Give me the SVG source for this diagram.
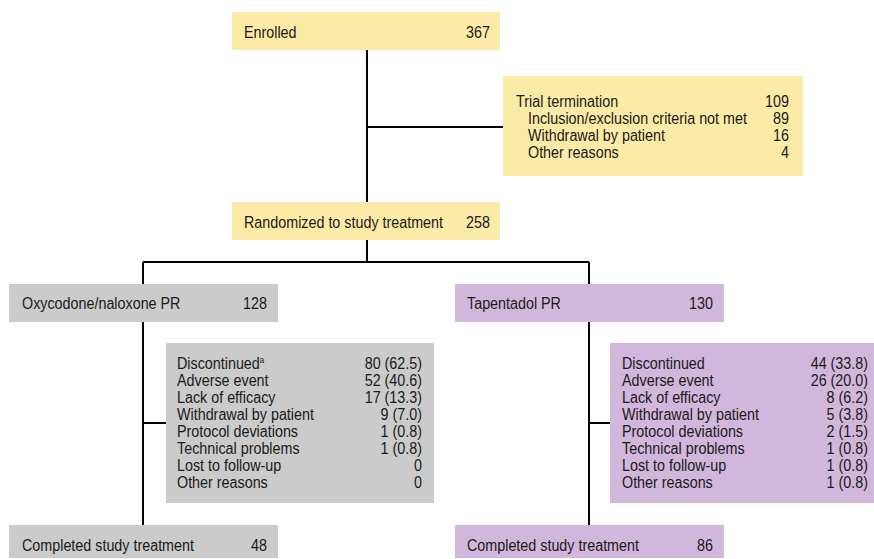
<svg xmlns="http://www.w3.org/2000/svg" width="874" height="559" viewBox="0 0 874 559">
<style>
text{font-family:"Liberation Sans",Arial,sans-serif;font-size:16.2px;fill:#1a1a1a}
.r{text-anchor:end}
.y{fill:#FCEBA6}
.g{fill:#CBCBCB}
.p{fill:#D2B7DC}
.c{stroke:#000;stroke-width:2;fill:none}
</style>
<rect width="874" height="559" fill="#fff"/>
<g id="connectors">
<path class="c" d="M367 50V202M367 127H503M367 240V262M143 262H589M143 262V525M589 262V525M143 423H166M589 423H610"/>
</g>
<g id="enrolled">
<rect class="y" x="232" y="12" width="268" height="38"/>
<text transform="matrix(0.885 0 0 1 244 38)">Enrolled</text>
<text class="r" transform="matrix(0.885 0 0 1 490 38)">367</text>
</g>
<g id="termination">
<rect class="y" x="503" y="76" width="300" height="100"/>
<text transform="matrix(0.885 0 0 1 516 107)">Trial termination</text>
<text class="r" transform="matrix(0.885 0 0 1 789 107)">109</text>
<text transform="matrix(0.885 0 0 1 528 124)">Inclusion/exclusion criteria not met</text>
<text class="r" transform="matrix(0.885 0 0 1 789 124)">89</text>
<text transform="matrix(0.885 0 0 1 528 141)">Withdrawal by patient</text>
<text class="r" transform="matrix(0.885 0 0 1 789 141)">16</text>
<text transform="matrix(0.885 0 0 1 528 158)">Other reasons</text>
<text class="r" transform="matrix(0.885 0 0 1 789 158)">4</text>
</g>
<g id="randomized">
<rect class="y" x="232" y="202" width="268" height="38"/>
<text transform="matrix(0.885 0 0 1 244 228)">Randomized to study treatment</text>
<text class="r" transform="matrix(0.885 0 0 1 490 228)">258</text>
</g>
<g id="oxy">
<rect class="g" x="9" y="284" width="269" height="38"/>
<text transform="matrix(0.885 0 0 1 22 309)">Oxycodone/naloxone PR</text>
<text class="r" transform="matrix(0.885 0 0 1 267 309)">128</text>
</g>
<g id="tap">
<rect class="p" x="455" y="284" width="269" height="38"/>
<text transform="matrix(0.885 0 0 1 467 309)">Tapentadol PR</text>
<text class="r" transform="matrix(0.885 0 0 1 713 309)">130</text>
</g>
<g id="oxy-disc">
<rect class="g" x="166" y="343" width="268" height="160"/>
<text transform="matrix(0.885 0 0 1 177 369)">Discontinued<tspan font-size="9" dy="-6">a</tspan></text>
<text transform="matrix(0.885 0 0 1 177 386)">Adverse event</text>
<text transform="matrix(0.885 0 0 1 177 403)">Lack of efficacy</text>
<text transform="matrix(0.885 0 0 1 177 420)">Withdrawal by patient</text>
<text transform="matrix(0.885 0 0 1 177 437)">Protocol deviations</text>
<text transform="matrix(0.885 0 0 1 177 454)">Technical problems</text>
<text transform="matrix(0.885 0 0 1 177 471)">Lost to follow-up</text>
<text transform="matrix(0.885 0 0 1 177 488)">Other reasons</text>
<text class="r" transform="matrix(0.885 0 0 1 422 369)">80 (62.5)</text>
<text class="r" transform="matrix(0.885 0 0 1 422 386)">52 (40.6)</text>
<text class="r" transform="matrix(0.885 0 0 1 422 403)">17 (13.3)</text>
<text class="r" transform="matrix(0.885 0 0 1 422 420)">9 (7.0)</text>
<text class="r" transform="matrix(0.885 0 0 1 422 437)">1 (0.8)</text>
<text class="r" transform="matrix(0.885 0 0 1 422 454)">1 (0.8)</text>
<text class="r" transform="matrix(0.885 0 0 1 422 471)">0</text>
<text class="r" transform="matrix(0.885 0 0 1 422 488)">0</text>
</g>
<g id="tap-disc">
<rect class="p" x="610" y="343" width="264" height="160"/>
<text transform="matrix(0.885 0 0 1 622 369)">Discontinued</text>
<text transform="matrix(0.885 0 0 1 622 386)">Adverse event</text>
<text transform="matrix(0.885 0 0 1 622 403)">Lack of efficacy</text>
<text transform="matrix(0.885 0 0 1 622 420)">Withdrawal by patient</text>
<text transform="matrix(0.885 0 0 1 622 437)">Protocol deviations</text>
<text transform="matrix(0.885 0 0 1 622 454)">Technical problems</text>
<text transform="matrix(0.885 0 0 1 622 471)">Lost to follow-up</text>
<text transform="matrix(0.885 0 0 1 622 488)">Other reasons</text>
<text class="r" transform="matrix(0.885 0 0 1 868 369)">44 (33.8)</text>
<text class="r" transform="matrix(0.885 0 0 1 868 386)">26 (20.0)</text>
<text class="r" transform="matrix(0.885 0 0 1 868 403)">8 (6.2)</text>
<text class="r" transform="matrix(0.885 0 0 1 868 420)">5 (3.8)</text>
<text class="r" transform="matrix(0.885 0 0 1 868 437)">2 (1.5)</text>
<text class="r" transform="matrix(0.885 0 0 1 868 454)">1 (0.8)</text>
<text class="r" transform="matrix(0.885 0 0 1 868 471)">1 (0.8)</text>
<text class="r" transform="matrix(0.885 0 0 1 868 488)">1 (0.8)</text>
</g>
<g id="oxy-done">
<rect class="g" x="9" y="525" width="269" height="33"/>
<text transform="matrix(0.885 0 0 1 22 551)">Completed study treatment</text>
<text class="r" transform="matrix(0.885 0 0 1 267 551)">48</text>
</g>
<g id="tap-done">
<rect class="p" x="455" y="525" width="269" height="33"/>
<text transform="matrix(0.885 0 0 1 467 551)">Completed study treatment</text>
<text class="r" transform="matrix(0.885 0 0 1 713 551)">86</text>
</g>
</svg>
